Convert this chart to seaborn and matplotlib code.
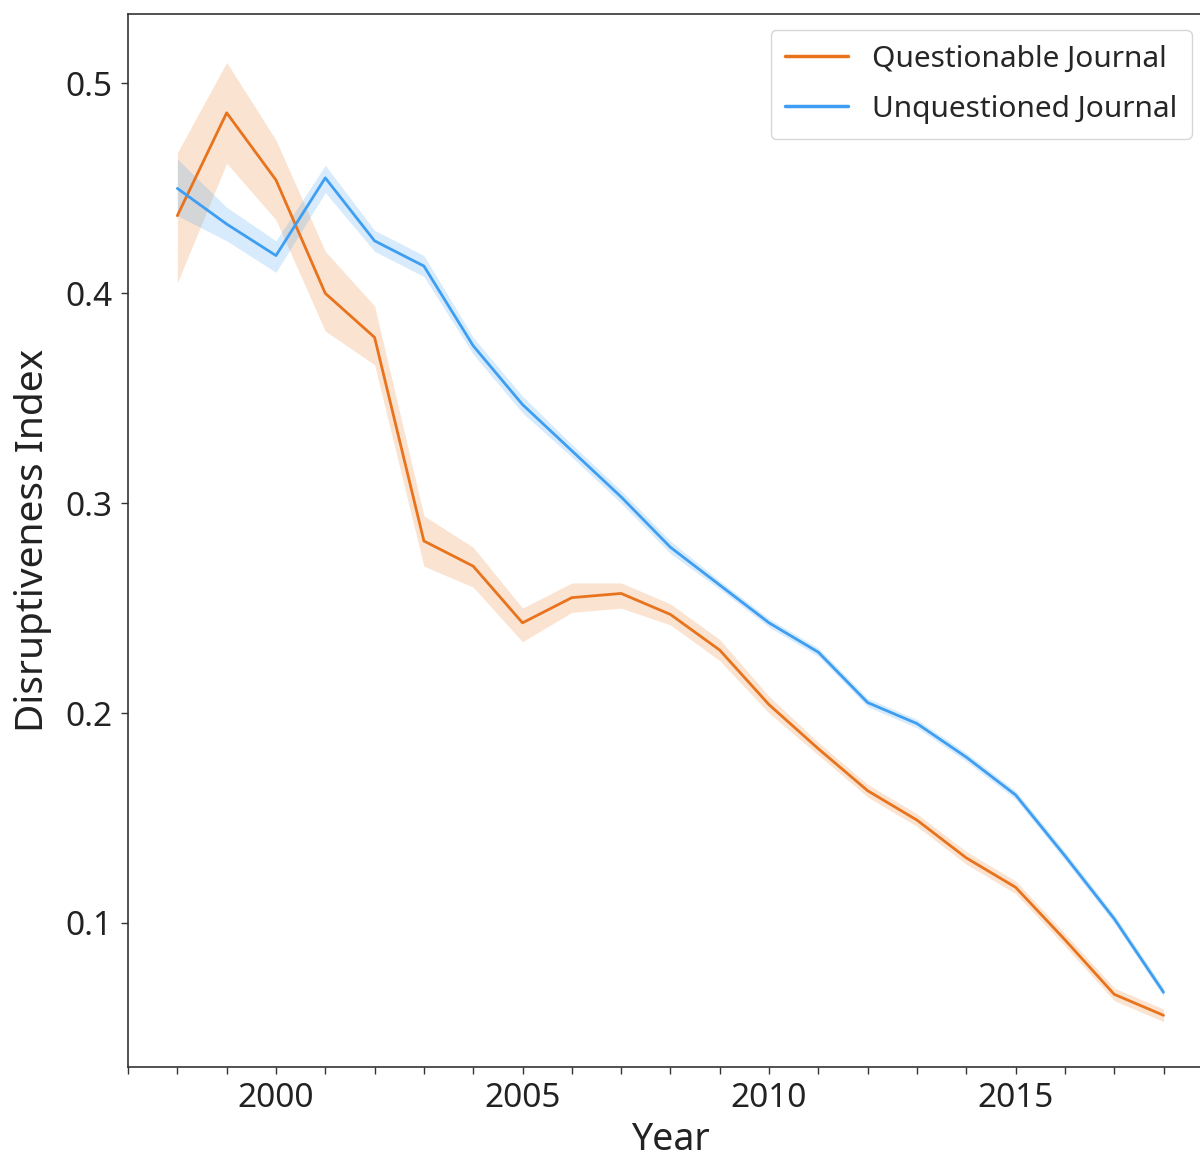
import numpy as np
import pandas as pd
import seaborn as sns
import matplotlib.pyplot as plt
from matplotlib.ticker import MultipleLocator

# ------------------------------
# Data
# ------------------------------
years = list(range(1998, 2019))

questionable_mean = [0.437, 0.486, 0.454, 0.400, 0.379, 0.282, 0.270, 0.243, 0.255, 0.257,
                     0.247, 0.230, 0.204, 0.183, 0.163, 0.149, 0.131, 0.117, 0.092, 0.066, 0.056]
questionable_low = [0.405, 0.462, 0.435, 0.382, 0.366, 0.270, 0.260, 0.234, 0.248, 0.250,
                    0.242, 0.225, 0.200, 0.180, 0.160, 0.146, 0.128, 0.114, 0.089, 0.063, 0.053]
questionable_high = [0.467, 0.510, 0.473, 0.420, 0.394, 0.294, 0.279, 0.250, 0.262, 0.262,
                     0.252, 0.235, 0.208, 0.186, 0.166, 0.152, 0.134, 0.120, 0.095, 0.069, 0.059]

unquestioned_mean = [0.450, 0.433, 0.418, 0.455, 0.425, 0.413, 0.375, 0.347, 0.325, 0.303,
                     0.279, 0.261, 0.243, 0.229, 0.205, 0.195, 0.179, 0.161, 0.132, 0.102, 0.067]
unquestioned_low = [0.437, 0.425, 0.410, 0.448, 0.420, 0.408, 0.371, 0.343, 0.322, 0.300,
                    0.276, 0.259, 0.241, 0.227, 0.203, 0.193, 0.177, 0.159, 0.130, 0.100, 0.065]
unquestioned_high = [0.464, 0.441, 0.425, 0.461, 0.430, 0.418, 0.379, 0.351, 0.328, 0.306,
                     0.282, 0.263, 0.245, 0.231, 0.207, 0.197, 0.181, 0.163, 0.134, 0.104, 0.069]

labels = ["Questionable Journal", "Unquestioned Journal"]
colors = ["#e8731c", "#3d9ef2"]

# ------------------------------
# Long-form table for seaborn
# ------------------------------
df = pd.DataFrame({
    "Year": years * 2,
    "Disruptiveness Index": questionable_mean + unquestioned_mean,
    "group": [labels[0]] * len(years) + [labels[1]] * len(years),
})

sns.set_style("ticks")
plt.rcParams['font.family'] = ['Noto Sans', 'DejaVu Sans']
plt.rcParams['font.weight'] = 'light'

fig = plt.figure(figsize=(12, 11.62), dpi=100)
ax = fig.add_axes([0.1067, 0.0818, 0.904, 0.906])

sns.lineplot(data=df, x="Year", y="Disruptiveness Index", hue="group",
             palette=colors, linewidth=2, ax=ax)

# confidence bands
ax.fill_between(years, questionable_low, questionable_high, color=colors[0], alpha=0.2, linewidth=0)
ax.fill_between(years, unquestioned_low, unquestioned_high, color=colors[1], alpha=0.2, linewidth=0)

ax.set_xlim(1997, 2019)
ax.set_ylim(0.0314, 0.533)
ax.xaxis.set_major_locator(MultipleLocator(5))
ax.xaxis.set_minor_locator(MultipleLocator(1))
ax.yaxis.set_major_locator(MultipleLocator(0.1))
ax.tick_params(axis="both", which="both", length=5, width=1, labelsize=24, colors="#333333",
               labelcolor="#222222", pad=6)

ax.set_xlabel("Year", fontsize=27, color="#222222", labelpad=4)
ax.set_ylabel("Disruptiveness Index", fontsize=28, color="#222222", labelpad=10)

for s in ax.spines.values():
    s.set_color("#333333")
    s.set_linewidth(1.2)

leg = ax.legend(title=None, fontsize=21.5, loc="upper right", bbox_to_anchor=(0.981, 0.985),
                borderaxespad=0, frameon=True, handlelength=2.1, handletextpad=0.8,
                borderpad=0.5, labelspacing=0.7)
leg.get_frame().set_edgecolor("#cccccc")
for line in leg.get_lines():
    line.set_linewidth(2.5)

fig.savefig("out.png", dpi=100)
